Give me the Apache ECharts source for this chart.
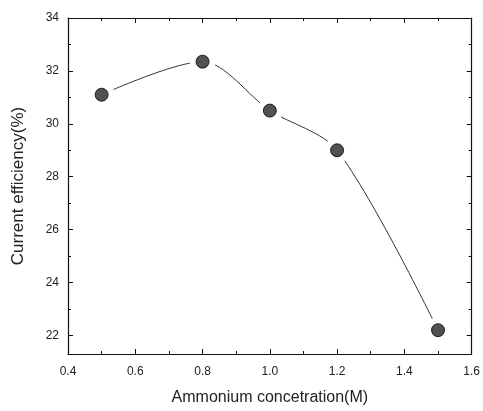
<!DOCTYPE html>
<html><head><meta charset="utf-8">
<script src="https://cdn.jsdelivr.net/npm/echarts@6/dist/echarts.min.js"></script>
<style>html,body{margin:0;padding:0;background:#fff}#c{width:483px;height:411px}</style>
</head><body><div id="c"></div>
<script>
const concentration = [0.5, 0.8, 1.0, 1.2, 1.5];
const efficiency = [31.1, 32.35, 30.5, 29.0, 22.2];
const xTitle = 'Ammonium concetration(M)';
const yTitle = 'Current efficiency(%)';

const pts = concentration.map((x, i) => [x, efficiency[i]]);
const font = 'Liberation Sans, Arial, sans-serif';
const tickCommon = {
  axisLine: {show: true, lineStyle: {color: '#111', width: 1.2}},
  axisTick: {show: true, inside: true, length: 5, lineStyle: {color: '#111'}},
  minorTick: {show: true, splitNumber: 2, length: 3, lineStyle: {color: '#111'}},
  splitLine: {show: false}
};
const chart = echarts.init(document.getElementById('c'));
chart.setOption({
  animation: false,
  backgroundColor: '#fff',
  grid: {left: 68, right: 10, top: 18, bottom: 56},
  xAxis: [
    Object.assign({type: 'value', min: 0.4, max: 1.6, interval: 0.2, position: 'bottom',
      name: xTitle, nameLocation: 'middle', nameGap: 36,
      nameTextStyle: {fontFamily: font, fontSize: 16, color: '#222'},
      axisLabel: {fontFamily: font, fontSize: 12, color: '#222', margin: 12,
        formatter: v => v.toFixed(1)}}, tickCommon),
    Object.assign({type: 'value', min: 0.4, max: 1.6, interval: 0.2, position: 'top',
      axisLabel: {show: false}}, tickCommon)
  ],
  yAxis: [
    Object.assign({type: 'value', min: 21.3, max: 34, splitNumber: 6, position: 'left',
      name: yTitle, nameLocation: 'middle', nameGap: 41,
      nameTextStyle: {fontFamily: font, fontSize: 17, color: '#222'},
      axisLabel: {fontFamily: font, fontSize: 12, color: '#222', margin: 9, showMinLabel: false}}, tickCommon),
    Object.assign({type: 'value', min: 21.3, max: 34, splitNumber: 6, position: 'right',
      axisLabel: {show: false}}, tickCommon)
  ],
  series: [
    {type: 'line', data: pts, smooth: 0.3, showSymbol: true, symbol: 'circle', symbolSize: 26,
      itemStyle: {color: '#fff', borderWidth: 0},
      lineStyle: {color: '#333', width: 1}, z: 2},
    {type: 'scatter', data: pts, symbol: 'circle', symbolSize: 13,
      itemStyle: {color: '#262626', borderColor: '#000', borderWidth: 1}, z: 3}
  ]
});
</script></body></html>
